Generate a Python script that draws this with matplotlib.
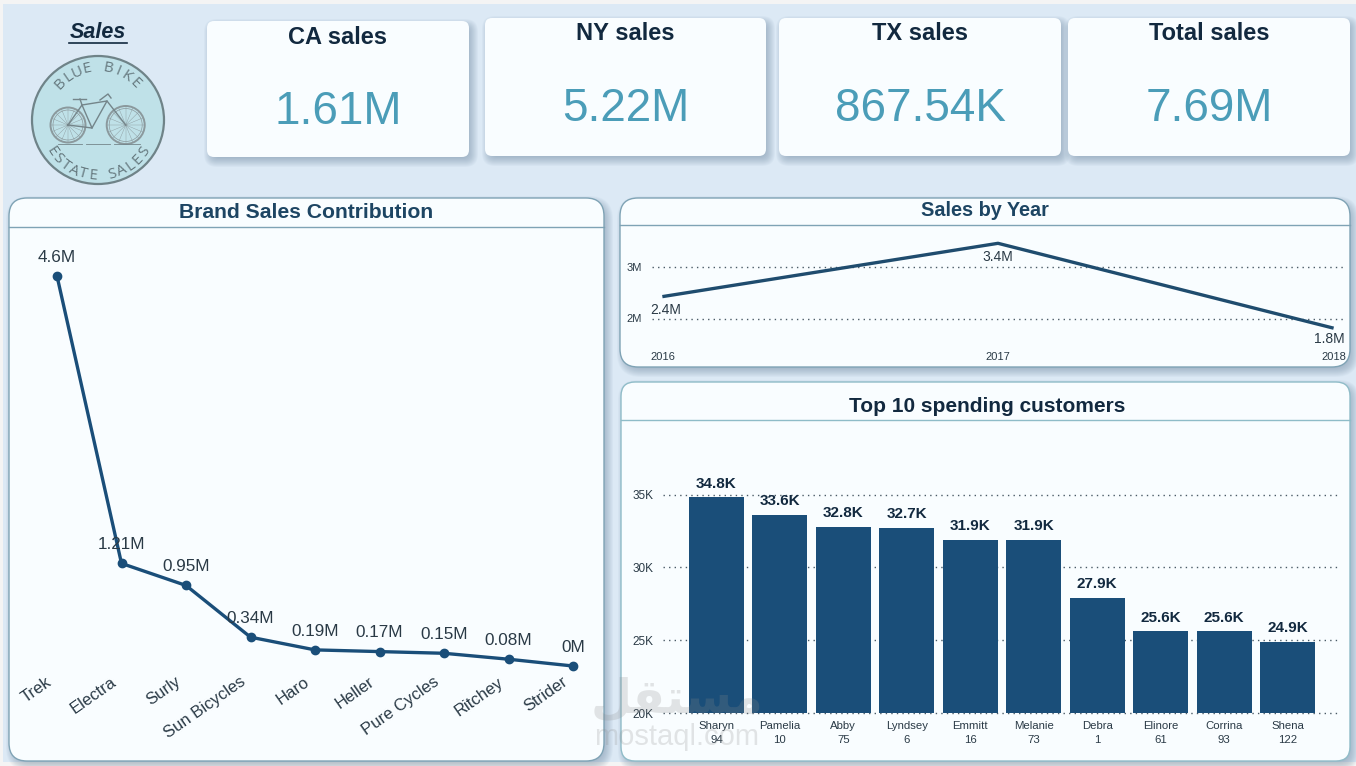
"""
Blue Bike sales dashboard, redrawn with matplotlib.
"""

import numpy as np
import matplotlib
matplotlib.use('Agg')
import matplotlib.pyplot as plt
from matplotlib.patches import Ellipse, Circle, FancyBboxPatch

W, H = 1356, 766

KPI_NAMES = ['CA sales', 'NY sales', 'TX sales', 'Total sales']
KPI_VALUES = ['1.61M', '5.22M', '867.54K', '7.69M']

BRANDS = ['Trek', 'Electra', 'Surly', 'Sun Bicycles', 'Haro', 'Heller',
          'Pure Cycles', 'Ritchey', 'Strider']
BRAND_SALES = [4.6, 1.21, 0.95, 0.34, 0.19, 0.17, 0.15, 0.08, 0.0]
BRAND_LABELS = ['4.6M', '1.21M', '0.95M', '0.34M', '0.19M', '0.17M', '0.15M',
                '0.08M', '0M']

YEARS = [2016, 2017, 2018]
YEAR_SALES = [2.43, 3.46, 1.82]
YEAR_LABELS = ['2.4M', '3.4M', '1.8M']

CUSTOMERS = ['Sharyn\n94', 'Pamelia\n10', 'Abby\n75', 'Lyndsey\n6', 'Emmitt\n16',
             'Melanie\n73', 'Debra\n1', 'Elinore\n61', 'Corrina\n93', 'Shena\n122']
SPEND = [34.8, 33.6, 32.8, 32.7, 31.9, 31.9, 27.9, 25.6, 25.6, 24.9]

NAVY = '#1a4e79'
DARK = '#12293f'
TEAL = '#4b9db8'
CARD = '#f9fdff'
BG = '#dce9f5'
INK = '#2a3a46'

plt.rcParams['font.family'] = 'Liberation Sans'


def px_axes(fig, left, right, top, bottom):
    # axes placed by pixel edges, y measured from the top of the image
    ax = fig.add_axes([left / W, 1 - bottom / H, (right - left) / W, (bottom - top) / H])
    ax.patch.set_visible(False)
    for side in ax.spines:
        ax.spines[side].set_visible(False)
    return ax


def card(bg, x0, y0, x1, y1, r, edge=None, title_line=None):
    # blurred shadow: stacked translucent boxes, shifted down and to the right
    for grow in range(6, -5, -1):
        bg.add_patch(FancyBboxPatch((x0 + 3 - grow, y0 + 4 - grow), x1 - x0 + 2 * grow,
                                    y1 - y0 + 2 * grow,
                                    boxstyle='round,pad=0,rounding_size=%d' % (r + max(grow, 0)),
                                    fc='#4f6c88', ec='none', alpha=0.045, zorder=1))
    bg.add_patch(FancyBboxPatch((x0, y0), x1 - x0, y1 - y0,
                                boxstyle='round,pad=0,rounding_size=%d' % r,
                                fc=CARD, ec=edge or 'none', lw=1, zorder=2))
    if title_line is not None:
        bg.plot([x0, x1], [title_line, title_line], color=edge, lw=1, zorder=3)


def arc_text(bg, text, cx, cy, r, start, end, bottom=False):
    angles = np.linspace(start, end, len(text))
    for ch, a in zip(text, angles):
        t = np.radians(a)
        x = cx + r * np.sin(t)
        y = cy - r * np.cos(t)
        rot = 180 - a if bottom else -a
        bg.text(x, y, ch, rotation=rot, ha='center', va='center', fontsize=11,
                family='Open Sans', color='#66797f', zorder=5, rotation_mode='anchor')


def wheel(bg, cx, cy, r):
    c = '#8b999d'
    bg.add_patch(Circle((cx, cy), r, fc='none', ec=c, lw=1.4, zorder=5))
    bg.add_patch(Circle((cx, cy), r - 2.5, fc='none', ec=c, lw=0.5, zorder=5))
    for a in np.arange(0, np.pi, np.pi / 8):
        bg.plot([cx - r * np.cos(a), cx + r * np.cos(a)],
                [cy - r * np.sin(a), cy + r * np.sin(a)], color=c, lw=0.3, zorder=5)


def draw_logo(bg):
    bg.add_patch(Ellipse((98, 120), 132, 128, fc='#bfe1e8', ec='#6f8388', lw=1.6, zorder=4))
    arc_text(bg, 'BLUE BIKE', 98, 120, 52, -46, 45)
    arc_text(bg, 'ESTATE SALES', 98, 120, 56, 236, 124, bottom=True)
    wheel(bg, 68, 125, 17.5)
    wheel(bg, 125.7, 125, 19)
    c = '#74858a'
    for xs, ys in [([68, 92, 107, 82, 68], [125, 128, 101, 105, 125]),
                   ([82, 92], [105, 128]), ([107, 125.7], [101, 125]),
                   ([73, 86], [98.5, 98.5]), ([80, 82], [99, 105]),
                   ([100, 108, 111], [100, 94, 98])]:
        bg.plot(xs, ys, color=c, lw=1.0, zorder=5)
    for x0, x1 in [(58, 82), (86, 110), (114, 140)]:
        bg.plot([x0, x1], [144, 144], color=c, lw=0.6, zorder=5)


def draw_background(fig):
    bg = fig.add_axes([0, 0, 1, 1])
    bg.set_xlim(0, W)
    bg.set_ylim(H, 0)
    bg.axis('off')
    bg.add_patch(plt.Rectangle((3, 4), W - 3, 758, fc=BG, ec='none', zorder=0))

    # KPI cards
    boxes = [(207, 21, 469, 157), (485, 18, 766, 156), (779, 18, 1061, 156), (1068, 18, 1350, 156)]
    title_y = [37, 33, 33, 33]
    value_y = [112, 109, 109, 109]
    for box, name, val, ty, vy in zip(boxes, KPI_NAMES, KPI_VALUES, title_y, value_y):
        card(bg, *box, 7)
        xc = (box[0] + box[2]) / 2
        bg.text(xc, ty, name, ha='center', va='center', fontsize=17, fontweight='bold',
                color=DARK, zorder=6)
        bg.text(xc, vy, val, ha='center', va='center', fontsize=33, color=TEAL, zorder=6)

    # panels
    card(bg, 9, 198, 604, 761, 18, edge='#7fa3b5', title_line=227)
    card(bg, 620, 198, 1350, 367, 18, edge='#7fa3b5', title_line=225)
    card(bg, 621, 382, 1350, 761, 14, edge='#8fbcc8', title_line=420)
    bg.text(306, 212, 'Brand Sales Contribution', ha='center', va='center', fontsize=15.2,
            fontweight='bold', color='#1d4563', zorder=6)
    bg.text(985, 210, 'Sales by Year', ha='center', va='center', fontsize=14.3,
            fontweight='bold', color='#1d4563', zorder=6)
    bg.text(987, 406, 'Top 10 spending customers', ha='center', va='center', fontsize=15,
            fontweight='bold', color=DARK, zorder=6)

    # logo and heading
    bg.text(98, 32.5, 'Sales', ha='center', va='center', fontsize=15.5, fontweight='bold',
            style='italic', color=DARK, zorder=6)
    bg.plot([69, 127], [42.5, 42.5], color=DARK, lw=1.2, zorder=6)
    draw_logo(bg)


def draw_brands(fig):
    ax = px_axes(fig, 57, 573, 276, 666)
    ax.set_xlim(0, len(BRANDS) - 1)
    ax.set_ylim(0, 4.6)
    x = np.arange(len(BRANDS))
    ax.plot(x, BRAND_SALES, color=NAVY, lw=2.4, marker='o', ms=6, clip_on=False)
    ax.set_yticks([])
    ax.set_xticks([])
    for i, (name, val, lab) in enumerate(zip(BRANDS, BRAND_SALES, BRAND_LABELS)):
        ax.annotate(lab, (i, val), xytext=(0, 13.5), textcoords='offset points', ha='center',
                    va='center', fontsize=12.3, color=INK)
        # rotated brand names end under their point
        ax.annotate(name, (i, 0), xytext=(-8, -6), textcoords='offset points', ha='right',
                    va='top', rotation=35, rotation_mode='anchor', fontsize=12, color=INK,
                    annotation_clip=False)


def draw_years(fig):
    ax = px_axes(fig, 664, 1332, 267, 318.5)
    ax.set_xlim(YEARS[0], YEARS[-1])
    ax.set_ylim(2, 3)
    ax.plot(YEARS, YEAR_SALES, color='#1f4c6e', lw=2.4, clip_on=False, zorder=3)
    ax.set_yticks([2, 3], ['2M', '3M'], fontsize=8, color=INK)
    ax.set_xticks([])
    ax.tick_params(length=0, pad=16)
    for y in (2, 3):
        ax.plot([-0.018, 1.0175], [y, y], transform=ax.get_yaxis_transform(), color='#4a5a66',
                lw=1, ls=(0, (1, 3)), clip_on=False, zorder=1)
    offs = [(1.5, -9.5), (0, -9.5), (-2, -8)]
    for yr, val, lab, off in zip(YEARS, YEAR_SALES, YEAR_LABELS, offs):
        ax.annotate(lab, (yr, val), xytext=off, textcoords='offset points', ha='center',
                    va='center', fontsize=10, color=INK, annotation_clip=False)
    for yr, dx in zip(YEARS, (-1, 0, 1)):
        ax.annotate(str(yr), (yr, 2), xytext=(dx, -27.5), textcoords='offset points',
                    ha='center', va='center', fontsize=8, color=INK, annotation_clip=False)


def draw_customers(fig):
    ax = px_axes(fig, 685, 1340, 494.5, 713)
    ax.set_xlim(685, 1340)
    pos = 716.5 + 63.45 * np.arange(len(CUSTOMERS))
    ax.bar(pos, SPEND, width=55, color=NAVY, zorder=2)
    ax.set_ylim(20, 35)
    ax.set_yticks([20, 25, 30, 35], ['20K', '25K', '30K', '35K'], fontsize=8.5, color=INK)
    ax.tick_params(axis='y', length=0, pad=23)
    ax.set_xticks(pos, CUSTOMERS, fontsize=8.2, color=INK, linespacing=1.5)
    ax.tick_params(axis='x', length=0, pad=6)
    for y in (20, 25, 30, 35):
        ax.plot([-0.034, 1.0], [y, y], transform=ax.get_yaxis_transform(), color='#4a5a66',
                lw=1, ls=(0, (1, 3)), clip_on=False, zorder=1)
    for p, v in zip(pos, SPEND):
        ax.annotate('%.1fK' % v, (p, v), xytext=(0, 10), textcoords='offset points', ha='center',
                    va='center', fontsize=11, fontweight='bold', color=DARK,
                    annotation_clip=False)


def main():
    fig = plt.figure(figsize=(W / 100, H / 100), dpi=100, facecolor='#f4f4f4')
    draw_background(fig)
    draw_brands(fig)
    draw_years(fig)
    draw_customers(fig)

    # faint site watermark over the lower middle
    # (presentation forms in visual order, matplotlib does no Arabic shaping)
    fig.text(677 / W, 1 - 700 / H, '\ufede\ufed8\ufe98\ufeb4\ufee3', ha='center', va='center',
             fontsize=34, fontweight='bold', family='DejaVu Sans', color='#8a8a8a', alpha=0.22,
             zorder=20)
    fig.text(677 / W, 1 - 737 / H, 'mostaql.com', ha='center', va='center', fontsize=21,
             color='#8a8a8a', alpha=0.22, zorder=20)

    fig.savefig('out.png', dpi=100)


if __name__ == "__main__":
    main()
